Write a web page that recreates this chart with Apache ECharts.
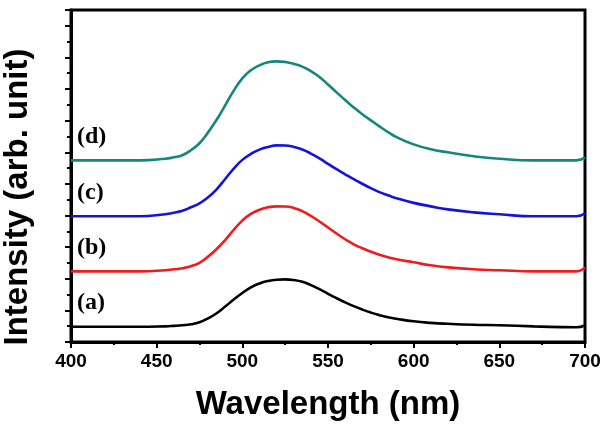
<!DOCTYPE html>
<html>
<head>
<meta charset="utf-8">
<script src="https://cdn.jsdelivr.net/npm/echarts@6/dist/echarts.min.js"></script>
<style>html,body{margin:0;padding:0;background:#fff}#c{width:608px;height:430px}</style>
</head>
<body>
<div id="c"></div>
<script>
const wavelengths = [400,440,455,460,465,470,475,480,485,490,495,500,505,510,515,520,525,530,535,540,545,550,555,560,565,570,575,580,585,590,600,610,620,635,650,670,695,700];
const seriesA = [0.96,0.96,0.99,1.02,1.06,1.12,1.25,1.50,1.82,2.24,2.69,3.10,3.45,3.70,3.86,3.94,3.96,3.92,3.81,3.60,3.34,3.05,2.77,2.51,2.27,2.05,1.86,1.70,1.57,1.47,1.31,1.21,1.15,1.09,1.06,0.99,0.93,1.06];
const seriesB = [4.47,4.47,4.54,4.60,4.66,4.79,5.01,5.40,5.88,6.45,7.10,7.68,8.10,8.36,8.52,8.58,8.57,8.48,8.28,7.98,7.62,7.24,6.86,6.50,6.18,5.93,5.71,5.52,5.36,5.23,5.04,4.85,4.72,4.60,4.54,4.47,4.47,4.72];
const seriesC = [7.95,7.95,8.08,8.17,8.30,8.52,8.77,9.15,9.66,10.31,10.97,11.52,11.90,12.17,12.34,12.44,12.43,12.34,12.18,11.92,11.61,11.27,10.93,10.61,10.30,10.01,9.73,9.48,9.28,9.09,8.80,8.58,8.39,8.20,8.08,7.95,7.95,8.14];
const seriesD = [11.49,11.49,11.59,11.68,11.81,12.13,12.57,13.26,14.06,14.97,15.90,16.68,17.19,17.50,17.69,17.75,17.71,17.60,17.42,17.14,16.76,16.29,15.79,15.31,14.84,14.41,14.02,13.64,13.28,12.96,12.50,12.19,12.00,11.75,11.59,11.49,11.49,11.68];
const seriesNames = ['(a)','(b)','(c)','(d)'];
const seriesColors = ['#000000','#ee1c1c','#1414d8','#14877c'];
const xTicks = [400,450,500,550,600,650,700];

const chart = echarts.init(document.getElementById('c'), null, {renderer:'canvas'});
const all = [seriesA, seriesB, seriesC, seriesD];
const series = all.map((vals, i) => ({
  name: seriesNames[i],
  type: 'line',
  data: wavelengths.map((w, j) => [w, vals[j]]),
  smooth: 0.5,
  showSymbol: false,
  lineStyle: {color: seriesColors[i], width: 2.6},
  z: 3
}));

const labelTops = [291, 236, 181, 125];
const graphics = seriesNames.map((n, i) => ({
  type: 'text', left: 77, top: labelTops[i],
  style: {text: n, font: 'bold 24px "Liberation Serif"', fill: '#000'}
}));

chart.setOption({
  animation: false,
  backgroundColor: '#fff',
  grid: {left: 71, right: 23, top: 10, bottom: 88, containLabel: false, outerBoundsMode: 'none', show: true, borderColor: '#000', borderWidth: 3, backgroundColor: 'transparent'},
  xAxis: {
    type: 'value', min: xTicks[0], max: xTicks[xTicks.length-1], interval: 50,
    name: 'Wavelength (nm)', nameLocation: 'middle', nameGap: 46,
    nameTextStyle: {fontFamily: 'Liberation Sans', fontWeight: 'bold', fontSize: 33, color: '#000'},
    axisLine: {show: true, lineStyle: {color: '#000', width: 3}},
    axisTick: {show: true, inside: false, length: 6, lineStyle: {color: '#000', width: 2}},
    minorTick: {show: true, splitNumber: 2, length: 3, lineStyle: {color: '#000', width: 2}},
    axisLabel: {fontFamily: 'Liberation Sans', fontWeight: 'bold', fontSize: 19, color: '#000', margin: 10},
    splitLine: {show: false}
  },
  yAxis: {
    type: 'value', min: 0, max: 21, interval: 2,
    name: 'Intensity (arb. unit)', nameLocation: 'middle', nameGap: 37,
    nameTextStyle: {fontFamily: 'Liberation Sans', fontWeight: 'bold', fontSize: 33, color: '#000', padding: [0, 0, 0, -42]},
    axisLine: {show: true, lineStyle: {color: '#000', width: 3}},
    axisTick: {show: true, inside: false, length: 6, lineStyle: {color: '#000', width: 2}},
    minorTick: {show: true, splitNumber: 2, length: 4, lineStyle: {color: '#000', width: 2}},
    axisLabel: {show: false},
    splitLine: {show: false}
  },
  graphic: graphics,
  series: series
});
</script>
</body>
</html>
